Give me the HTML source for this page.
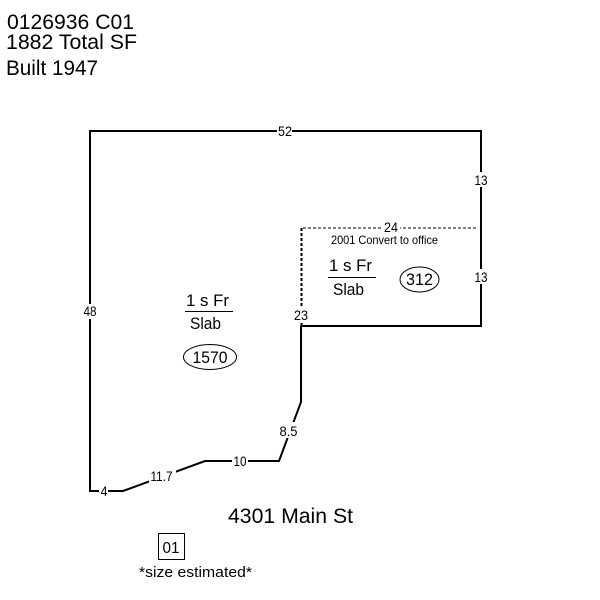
<!DOCTYPE html>
<html>
<head>
<meta charset="utf-8">
<style>
html,body{margin:0;padding:0;background:#fff;width:600px;height:600px;overflow:hidden}
svg{display:block}
text{font-family:"Liberation Sans",Arial,sans-serif;fill:#000}
</style>
</head>
<body>
<svg width="600" height="600" viewBox="0 0 600 600" xmlns="http://www.w3.org/2000/svg">
<rect width="600" height="600" fill="#fff"/>
<path d="M90 131H481V326H301V402L279 461H205L123 491H90Z" fill="none" stroke="#000" stroke-width="2"/>
<path d="M301 326V228H481" fill="none" stroke="#fff" stroke-width="3"/>
<path d="M301 326V228H478" fill="none" stroke="#000" stroke-width="1" stroke-dasharray="3 2"/>
<path d="M302 326V228" fill="none" stroke="#000" stroke-width="1" stroke-dasharray="3 2"/>
<path d="M481 131V326" fill="none" stroke="#000" stroke-width="2"/>

<rect x="277" y="125" width="15" height="13" fill="#fff"/>
<rect x="474" y="172" width="15" height="15" fill="#fff"/>
<rect x="474" y="269" width="15" height="15" fill="#fff"/>
<rect x="383" y="222" width="17" height="13" fill="#fff"/>
<rect x="294" y="307" width="15" height="16" fill="#fff"/>
<rect x="82" y="304" width="16" height="15" fill="#fff"/>
<rect x="279" y="422" width="20" height="16" fill="#fff"/>
<rect x="232" y="455" width="16" height="12" fill="#fff"/>
<rect x="149" y="466" width="27" height="18" fill="#fff"/>
<rect x="99" y="485" width="9" height="13" fill="#fff"/>

<g font-size="14" text-anchor="middle" lengthAdjust="spacingAndGlyphs">
<text x="285" y="136" textLength="14" lengthAdjust="spacingAndGlyphs">52</text>
<text x="481" y="185" textLength="13" lengthAdjust="spacingAndGlyphs">13</text>
<text x="481" y="282" textLength="13" lengthAdjust="spacingAndGlyphs">13</text>
<text x="391" y="232" textLength="14" lengthAdjust="spacingAndGlyphs">24</text>
<text x="301" y="320" textLength="14" lengthAdjust="spacingAndGlyphs">23</text>
<text x="90" y="316" textLength="13" lengthAdjust="spacingAndGlyphs">48</text>
<text x="288.500" y="436" textLength="18" lengthAdjust="spacingAndGlyphs">8.5</text>
<text x="240" y="466" textLength="13" lengthAdjust="spacingAndGlyphs">10</text>
<text x="161.500" y="481" textLength="22" lengthAdjust="spacingAndGlyphs">11.7</text>
<text x="104" y="496" textLength="7" lengthAdjust="spacingAndGlyphs">4</text>
</g>

<text x="7" y="29" font-size="21" textLength="127" lengthAdjust="spacingAndGlyphs">0126936 C01</text>
<text x="6" y="49" font-size="21" textLength="131" lengthAdjust="spacingAndGlyphs">1882 Total SF</text>
<text x="6" y="75" font-size="21" textLength="92" lengthAdjust="spacingAndGlyphs">Built 1947</text>

<text x="331" y="244" font-size="12" textLength="107" lengthAdjust="spacingAndGlyphs">2001 Convert to office</text>

<text x="329" y="271" font-size="17" textLength="43" lengthAdjust="spacingAndGlyphs">1 s Fr</text>
<path d="M328 277.500H376" stroke="#000" stroke-width="1"/>
<text x="333" y="295" font-size="17" textLength="31" lengthAdjust="spacingAndGlyphs">Slab</text>
<ellipse cx="419.500" cy="279.500" rx="19.500" ry="12.500" fill="none" stroke="#000" stroke-width="1"/>
<text x="419.500" y="285" font-size="17" text-anchor="middle" textLength="27" lengthAdjust="spacingAndGlyphs">312</text>

<text x="186" y="306" font-size="17" textLength="43" lengthAdjust="spacingAndGlyphs">1 s Fr</text>
<path d="M185 311.500H233" stroke="#000" stroke-width="1"/>
<text x="190" y="329" font-size="17" textLength="31" lengthAdjust="spacingAndGlyphs">Slab</text>
<ellipse cx="210" cy="357" rx="26.500" ry="12.500" fill="none" stroke="#000" stroke-width="1"/>
<text x="210" y="363" font-size="17" text-anchor="middle" textLength="35" lengthAdjust="spacingAndGlyphs">1570</text>

<text x="228" y="523" font-size="21" textLength="125" lengthAdjust="spacingAndGlyphs">4301 Main St</text>

<rect x="158.500" y="533.500" width="26" height="26" fill="none" stroke="#000" stroke-width="1"/>
<text x="171" y="553" font-size="16" text-anchor="middle" textLength="17" lengthAdjust="spacingAndGlyphs">01</text>
<text x="139" y="577" font-size="15" textLength="113" lengthAdjust="spacingAndGlyphs">*size estimated*</text>
</svg>
</body>
</html>
